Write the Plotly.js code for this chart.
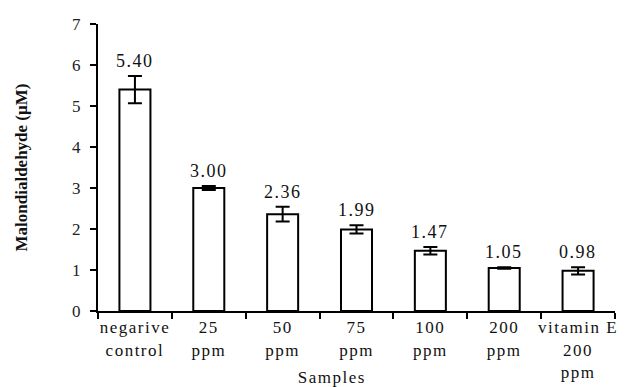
<!DOCTYPE html>
<html><head><meta charset="utf-8">
<script src="https://cdn.plot.ly/plotly-3.0.1.min.js"></script>
<style>
html,body{margin:0;padding:0;background:#fff}
#chart .xtick text{letter-spacing:1.5px}
#chart .annotation-text{letter-spacing:1.5px}
</style>
</head><body>
<div id="chart" style="width:626px;height:387px"></div>
<script>
const categories = ["negarive<br>control", "25<br>ppm", "50<br>ppm", "75<br>ppm", "100<br>ppm", "200<br>ppm", "vitamin E<br>200<br>ppm"];
const values = [5.40, 3.00, 2.36, 1.99, 1.47, 1.05, 0.98];
const errors = [0.33, 0.05, 0.18, 0.10, 0.09, 0.02, 0.09];
const valueLabels = ["5.40", "3.00", "2.36", "1.99", "1.47", "1.05", "0.98"];
const xTitle = "Samples";

const serif = "Liberation Serif, Times New Roman, serif";

const trace = {
  type: "bar",
  x: categories,
  y: values,
  width: 0.42,
  marker: {color: "#ffffff", line: {color: "#000000", width: 2}},
  error_y: {type: "data", array: errors, visible: true, color: "#000000", thickness: 2, width: 7},
  hoverinfo: "none"
};

const annotations = categories.map((c, i) => ({
  x: c, y: values[i] + errors[i], xref: "x", yref: "y",
  text: valueLabels[i], showarrow: false, yanchor: "bottom", yshift: 3,
  font: {family: serif, size: 18, color: "#111"}
}));
annotations.push({
  x: 0.453, y: 0, xref: "paper", yref: "paper", yanchor: "top", yshift: -55,
  text: xTitle, showarrow: false,
  font: {family: serif, size: 17, color: "#111"}
});

const layout = {
  width: 626, height: 387,
  margin: {l: 98, r: 11, t: 24, b: 76},
  paper_bgcolor: "#fff", plot_bgcolor: "#fff",
  showlegend: false,
  bargap: 0.58,
  xaxis: {
    type: "category",
    automargin: false,
    tickangle: 0,
    showline: true, linecolor: "#000", linewidth: 2,
    ticks: "outside", tickson: "boundaries", ticklen: 6, tickwidth: 2, tickcolor: "#000",
    tickfont: {family: serif, size: 17, color: "#111"},
    showgrid: false, zeroline: false
  },
  yaxis: {
    range: [0, 7], dtick: 1,
    automargin: false,
    showline: true, linecolor: "#000", linewidth: 2,
    ticks: "outside", ticklen: 6, tickwidth: 2, tickcolor: "#000",
    ticklabelstandoff: 6,
    tickfont: {family: serif, size: 17, color: "#222"},
    showgrid: false, zeroline: false,
    title: {text: "<b>Malondialdehyde (µM)</b>", font: {family: serif, size: 17, color: "#111"}, standoff: 40}
  },
  annotations: annotations
};

Plotly.newPlot("chart", [trace], layout, {displayModeBar: false, staticPlot: true});
</script>
</body></html>
